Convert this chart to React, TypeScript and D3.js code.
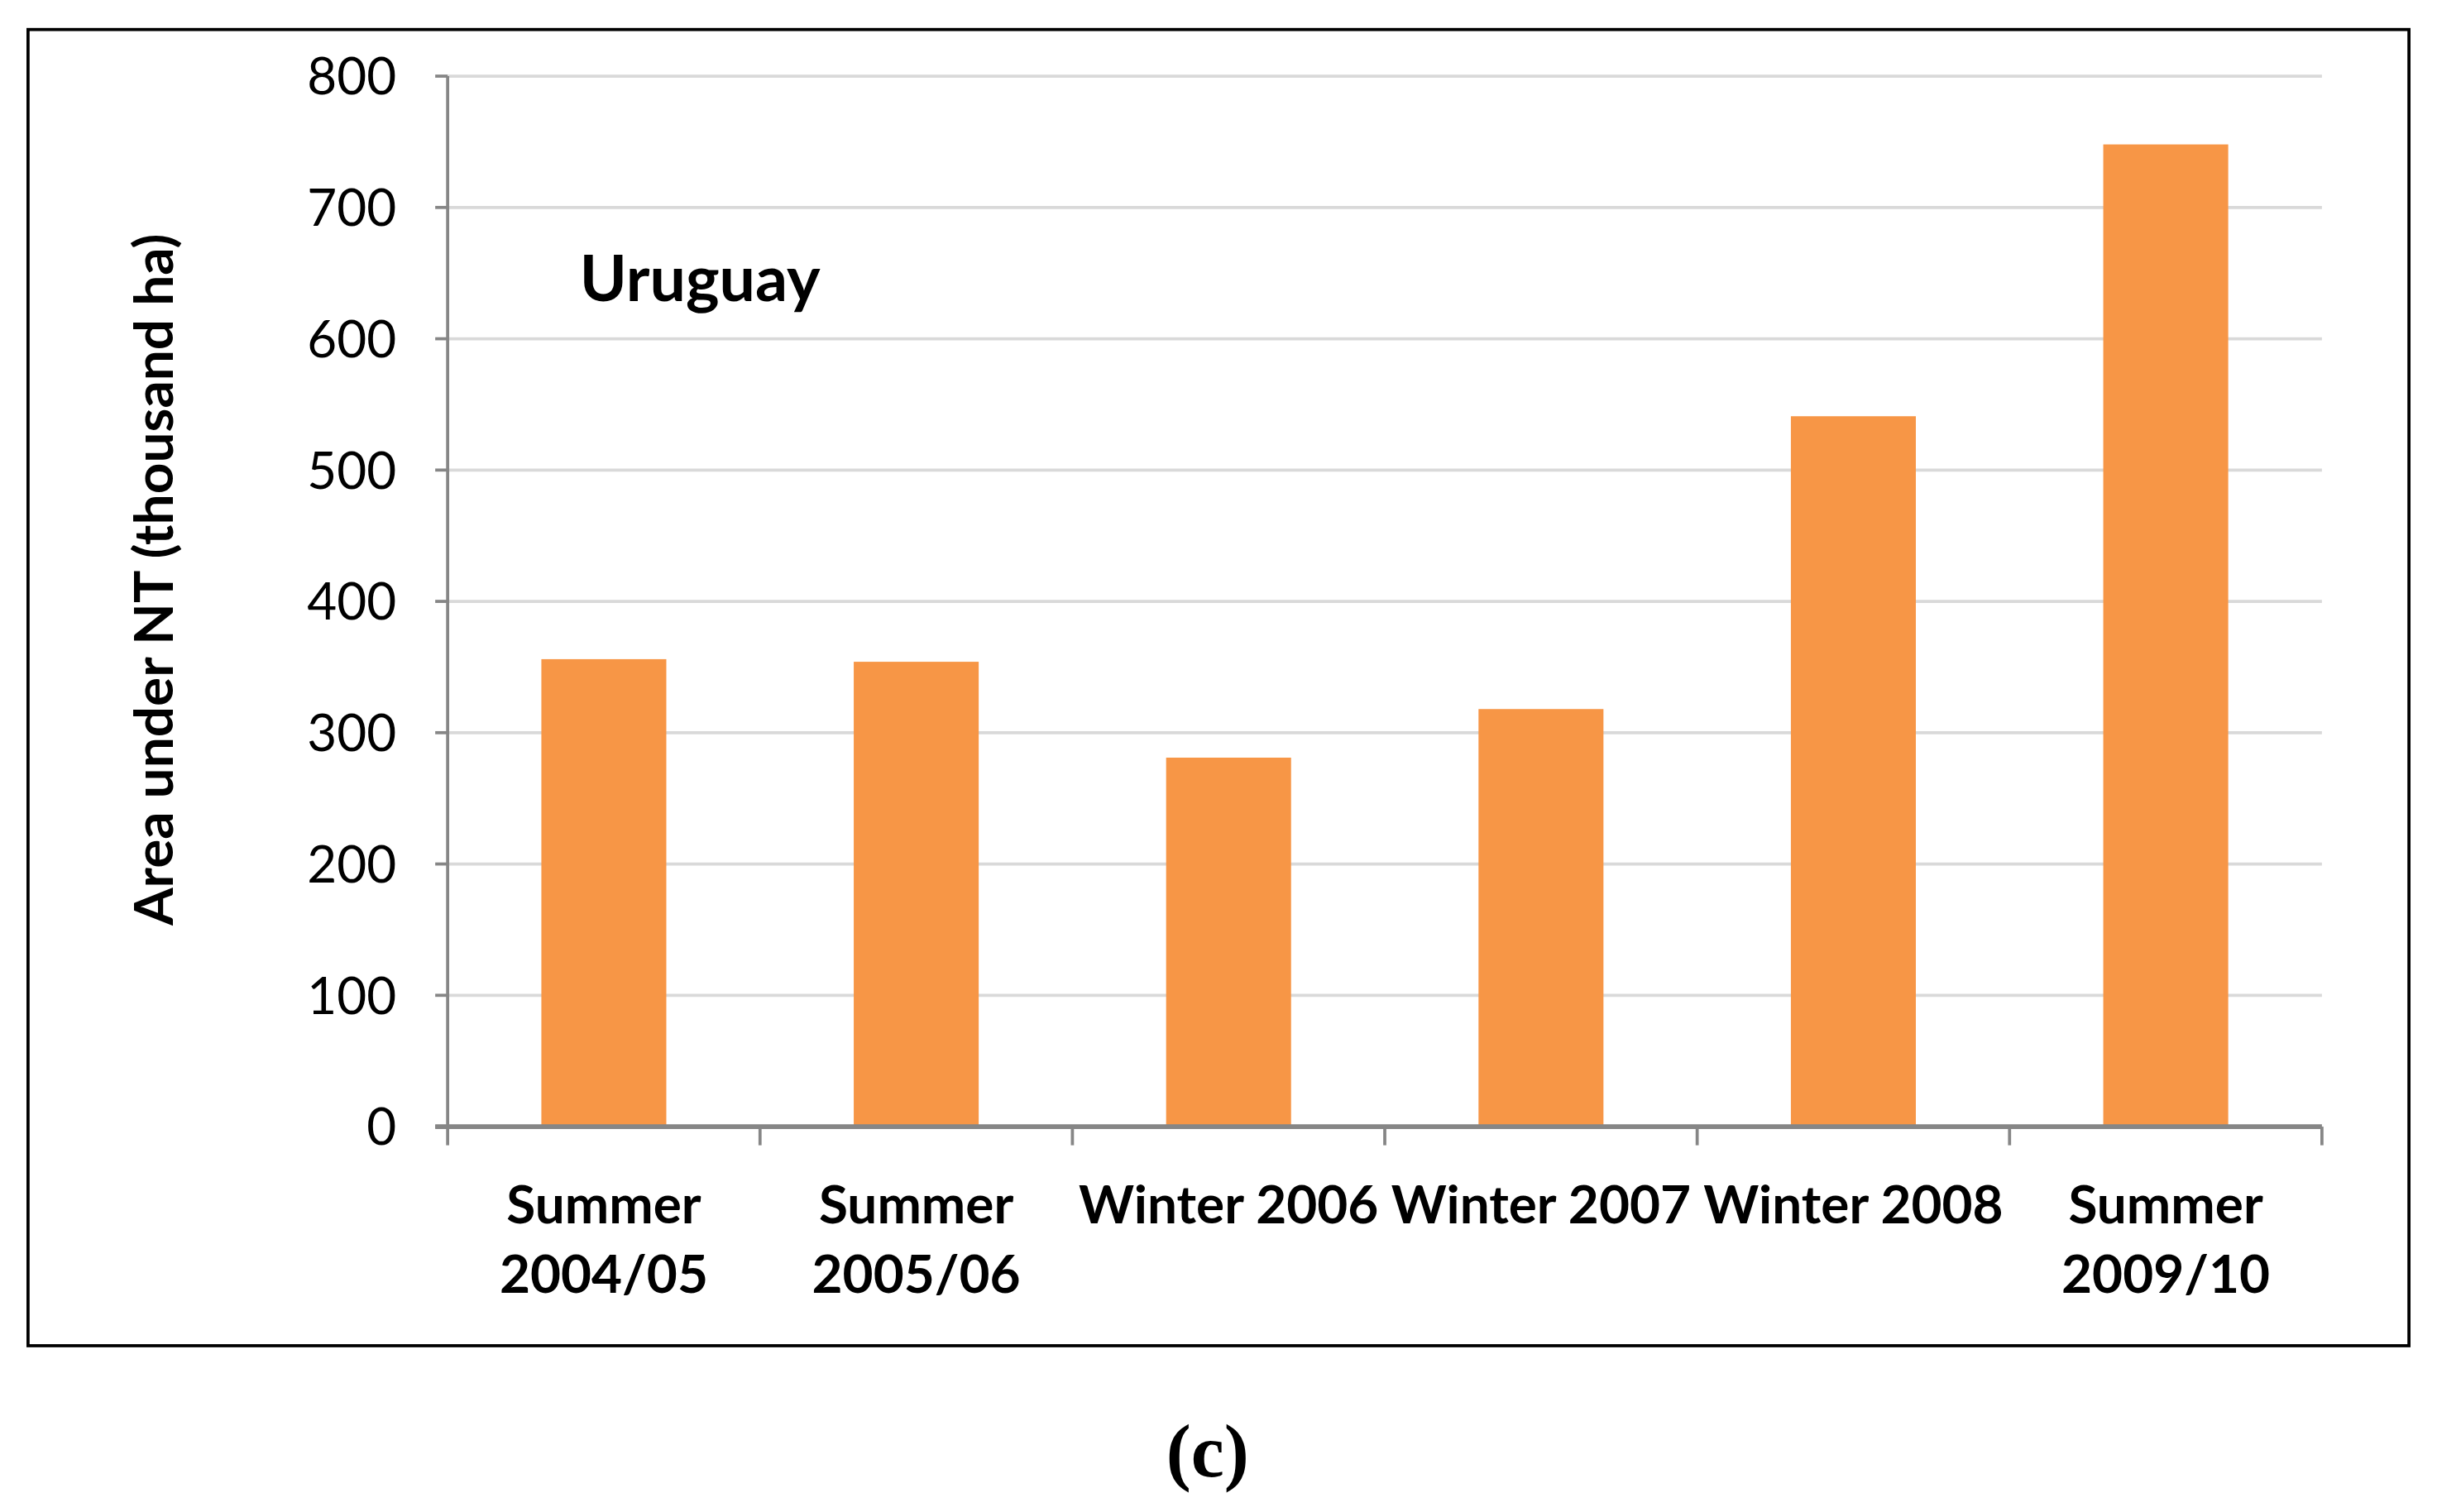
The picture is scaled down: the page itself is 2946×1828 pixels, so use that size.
import React from "react";
import * as d3 from "d3";

const categories: string[][] = [
  ["Summer", "2004/05"],
  ["Summer", "2005/06"],
  ["Winter 2006"],
  ["Winter 2007"],
  ["Winter 2008"],
  ["Summer", "2009/10"],
];
const values: number[] = [356, 354, 281, 318, 541, 748];
const yTicks: number[] = [0, 100, 200, 300, 400, 500, 600, 700, 800];
const yTitle = "Area under NT (thousand ha)";
const panelTitle = "Uruguay";
const caption = "(c)";

const W = 1568;
const H = 973;
const plot = { left: 288, right: 1494, top: 49, bottom: 725 };
const FONT = "Lato, 'Open Sans', sans-serif";

export default function App() {
  const x = d3
    .scaleBand<number>()
    .domain(d3.range(categories.length))
    .range([plot.left, plot.right])
    .paddingInner(0.6)
    .paddingOuter(0.3);
  const band = d3
    .scaleBand<number>()
    .domain(d3.range(categories.length))
    .range([plot.left, plot.right]);
  const y = d3.scaleLinear().domain([0, 800]).range([plot.bottom, plot.top]);

  const boundaries = d3.range(categories.length + 1).map((i) =>
    i < categories.length ? (band(i) as number) : plot.right
  );

  return (
    <svg
      width={2946}
      height={1828}
      viewBox={`0 0 ${W} ${H}`}
      style={{ position: "absolute", left: 0, top: 0, background: "#fff" }}
    >
      <rect x={0} y={0} width={W} height={H} fill="#fff" />
      <rect x={18} y={19} width={1532} height={847} fill="none" stroke="#000" strokeWidth={2} />
      {yTicks.map((t) => (
        <g key={t}>
          {t > 0 && (
            <line x1={plot.left} x2={plot.right} y1={y(t)} y2={y(t)} stroke="#d9d9d9" strokeWidth={2} />
          )}
          <line x1={plot.left - 8} x2={plot.left} y1={y(t)} y2={y(t)} stroke="#868686" strokeWidth={2} />
          <text
            x={255}
            y={y(t)}
            dy="0.36em"
            textAnchor="end"
            fontFamily={FONT}
            fontSize={33}
            fill="#000"
          >
            {t}
          </text>
        </g>
      ))}
      {values.map((v, i) => (
        <rect
          key={i}
          x={x(i)}
          y={y(v)}
          width={x.bandwidth()}
          height={y(0) - y(v)}
          fill="#f79646"
        />
      ))}
      <line x1={plot.left} x2={plot.left} y1={plot.top} y2={plot.bottom} stroke="#868686" strokeWidth={2} />
      <line x1={plot.left - 8} x2={plot.right} y1={plot.bottom} y2={plot.bottom} stroke="#868686" strokeWidth={3} />
      {boundaries.map((bx, i) => (
        <line key={i} x1={bx} x2={bx} y1={plot.bottom} y2={plot.bottom + 12} stroke="#868686" strokeWidth={2} />
      ))}
      {categories.map((lines, i) => (
        <text
          key={i}
          x={(band(i) as number) + band.bandwidth() / 2}
          textAnchor="middle"
          fontFamily={FONT}
          fontWeight="bold"
          fontSize={34}
          fill="#000"
        >
          {lines.map((l, j) => (
            <tspan key={j} x={(band(i) as number) + band.bandwidth() / 2} y={787 + j * 45}>
              {l}
            </tspan>
          ))}
        </text>
      ))}
      <text
        transform={`translate(111, 373) rotate(-90)`}
        textAnchor="middle"
        fontFamily={FONT}
        fontWeight="bold"
        fontSize={35}
        fill="#000"
      >
        {yTitle}
      </text>
      <text x={373} y={194} fontFamily={FONT} fontWeight="bold" fontSize={41} fill="#000">
        {panelTitle}
      </text>
      <text
        x={777}
        y={950}
        textAnchor="middle"
        fontFamily="'Liberation Serif', 'DejaVu Serif', serif"
        fontWeight="bold"
        fontSize={48}
        fill="#000"
      >
        {caption}
      </text>
    </svg>
  );
}
